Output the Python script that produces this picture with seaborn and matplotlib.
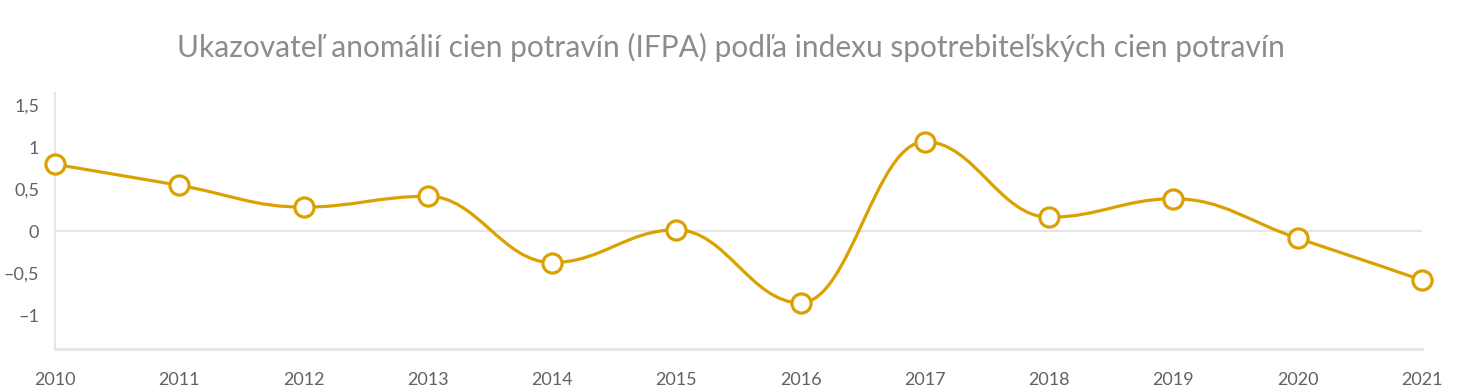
import numpy as np
import pandas as pd
import matplotlib
matplotlib.use("Agg")
import matplotlib.pyplot as plt
from matplotlib.path import Path
from matplotlib.patches import PathPatch
import seaborn as sns

# Data
years = [2010, 2011, 2012, 2013, 2014, 2015, 2016, 2017, 2018, 2019, 2020, 2021]
ifpa = [0.80, 0.55, 0.29, 0.42, -0.37, 0.02, -0.85, 1.07, 0.17, 0.39, -0.08, -0.58]
ytick_vals = [-1, -0.5, 0, 0.5, 1, 1.5]
ytick_labels = ["–1", "–0,5", "0", "0,5", "1", "1,5"]
title = "Ukazovateľ anomálií cien potravín (IFPA) podľa indexu spotrebiteľských cien potravín"

df = pd.DataFrame({"year": years, "ifpa": ifpa})

gold = "#DBA102"
grid_c = "#e6e6e6"
text_c = "#606068"

sns.set_theme(style="white")
plt.rcParams["font.family"] = ["Lato", "DejaVu Sans"]

fig = plt.figure(figsize=(14.62, 3.92), dpi=100)
ax = fig.add_axes([55 / 1462, 1 - 349 / 392, (1422 - 55) / 1462, (349 - 93) / 392])


# spline control points (Highcharts-like smoothing)
def spline_path(xs, ys, smoothing=1.5):
    n = len(xs)
    denom = smoothing + 1
    lc = [None] * n
    rc = [None] * n
    for i in range(n):
        if 0 < i < n - 1:
            lx, ly = xs[i - 1], ys[i - 1]
            nx, ny = xs[i + 1], ys[i + 1]
            px, py = xs[i], ys[i]
            lcx = (smoothing * px + lx) / denom
            lcy = (smoothing * py + ly) / denom
            rcx = (smoothing * px + nx) / denom
            rcy = (smoothing * py + ny) / denom
            corr = (rcy - lcy) * (rcx - px) / (rcx - lcx) + py - rcy
            lcy += corr
            rcy += corr
            if lcy > ly and lcy > py:
                lcy = max(ly, py)
                rcy = 2 * py - lcy
            elif lcy < ly and lcy < py:
                lcy = min(ly, py)
                rcy = 2 * py - lcy
            if rcy > ny and rcy > py:
                rcy = max(ny, py)
                lcy = 2 * py - rcy
            elif rcy < ny and rcy < py:
                rcy = min(ny, py)
                lcy = 2 * py - rcy
            lc[i] = (lcx, lcy)
            rc[i] = (rcx, rcy)
        else:
            lc[i] = (xs[i], ys[i])
            rc[i] = (xs[i], ys[i])
    verts = [(xs[0], ys[0])]
    codes = [Path.MOVETO]
    for i in range(1, n):
        verts += [rc[i - 1], lc[i], (xs[i], ys[i])]
        codes += [Path.CURVE4] * 3
    return Path(verts, codes)


ax.axhline(0, color=grid_c, lw=1.5, zorder=1)
ax.add_patch(PathPatch(spline_path(df["year"].values.astype(float), df["ifpa"].values),
                       facecolor="none", edgecolor=gold, lw=2.3, zorder=2))
sns.scatterplot(data=df, x="year", y="ifpa", ax=ax, s=190, color="white",
                edgecolor=gold, linewidth=2.3, zorder=3, clip_on=False, legend=False)

ax.set_xlim(2010, 2021)
ax.set_ylim(-1.4, 1.65)
ax.set_xticks(years)
ax.set_xticklabels([str(y) for y in years])
ax.set_yticks(ytick_vals)
ax.set_yticklabels(ytick_labels)
ax.set_xlabel("")
ax.set_ylabel("")

for s in ["top", "right"]:
    ax.spines[s].set_visible(False)
ax.spines["left"].set_color(grid_c)
ax.spines["left"].set_linewidth(1.5)
ax.spines["bottom"].set_color(grid_c)
ax.spines["bottom"].set_linewidth(2.2)

ax.tick_params(axis="both", direction="inout", length=15, width=1.2, color=grid_c,
               labelcolor=text_c, labelsize=13)
ax.tick_params(axis="x", pad=9)
ax.tick_params(axis="y", pad=4)

fig.text(0.5, 1 - 47 / 392, title, ha="center", va="center", fontsize=21.5, color="#8c8c8c")

fig.savefig("out.png", dpi=100, facecolor="white")
